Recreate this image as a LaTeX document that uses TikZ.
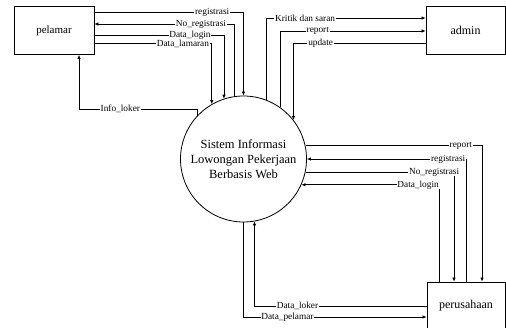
\documentclass[tikz,border=0pt]{standalone}
\usepackage{fontspec}
\setmainfont{Liberation Serif}
\usetikzlibrary{arrows.meta}
\tikzset{
  entity/.style={draw, line width=0.8pt, minimum width=79pt, minimum height=48pt, inner sep=0pt},
  proc/.style={draw, circle, line width=0.8pt, minimum size=126pt, inner sep=0pt, align=center, font=\fontsize{12.5}{15}\selectfont},
  flow/.style={line width=0.7pt},
  arr/.style={flow, -{Latex[length=4pt,width=3.5pt]}},
  lbl/.style={fill=white, inner xsep=0.8pt, inner ysep=0pt, font=\fontsize{9.3}{10}\selectfont}
}
\begin{document}
\begin{tikzpicture}[x=1pt,y=-1pt]
\useasboundingbox (0,0) rectangle (506,328);
\node[entity, font=\fontsize{11}{12}\selectfont, minimum width=80pt, minimum height=48pt] (pelamar) at (54,30.5) {pelamar};
\node[entity, font=\fontsize{12}{13}\selectfont] (admin) at (465.5,30) {admin};
\node[entity, font=\fontsize{12}{13}\selectfont, minimum width=78pt] (perusahaan) at (466,306) {perusahaan};
\node[proc] (circ) at (243.5,159) {Sistem Informasi\\Lowongan Pekerjaan\\Berbasis Web};

% pelamar flows
\draw[arr] ([yshift=18.5pt]pelamar.east) -| node[lbl, pos=0.395] {registrasi} (circ.north);
\draw[arr] (circ.98.7) |- node[lbl, pos=0.62] {No\_registrasi} ([yshift=6.5pt]pelamar.east);
\draw[arr] ([yshift=-5pt]pelamar.east) -| node[lbl, pos=0.369] {Data\_login} (circ.108);
\draw[arr] ([yshift=-13pt]pelamar.east) -| node[lbl, pos=0.377] {Data\_lamaran} (circ.120);
\draw[arr] (circ.137.6) -- ++(0,-6.5) -| node[lbl, pos=0.325] {Info\_loker} ([xshift=25pt]pelamar.south);

% admin flows
\draw[arr] (circ.69.1) |- node[lbl, pos=0.622] {Kritik dan saran} ([yshift=12pt]admin.west);
\draw[arr] (circ.55.7) |- node[lbl, pos=0.63] {report} ([yshift=-1pt]admin.west);
\draw[arr] ([yshift=-13pt]admin.west) -| node[lbl, pos=0.397] {update} (circ.38.9);

% perusahaan flows
\draw[arr] (circ.12.4) -| node[lbl, pos=0.44] {report} ([xshift=16pt]perusahaan.north);
\draw[arr] (perusahaan.north) |- node[lbl, pos=0.556] {registrasi} (circ.east);
\draw[arr] (circ.-12.4) -| node[lbl, pos=0.433] {No\_registrasi} ([xshift=-12pt]perusahaan.north);
\draw[arr] ([xshift=-27pt]perusahaan.north) |- node[lbl, pos=0.576] {Data\_login} (circ.-24.4);
\draw[arr] (perusahaan.west) -| node[lbl, pos=0.375] {Data\_loker} (circ.-80.4);
\draw[arr] (circ.south) |- node[lbl, pos=0.62] {Data\_pelamar} ([yshift=-11pt]perusahaan.west);
\end{tikzpicture}
\end{document}
